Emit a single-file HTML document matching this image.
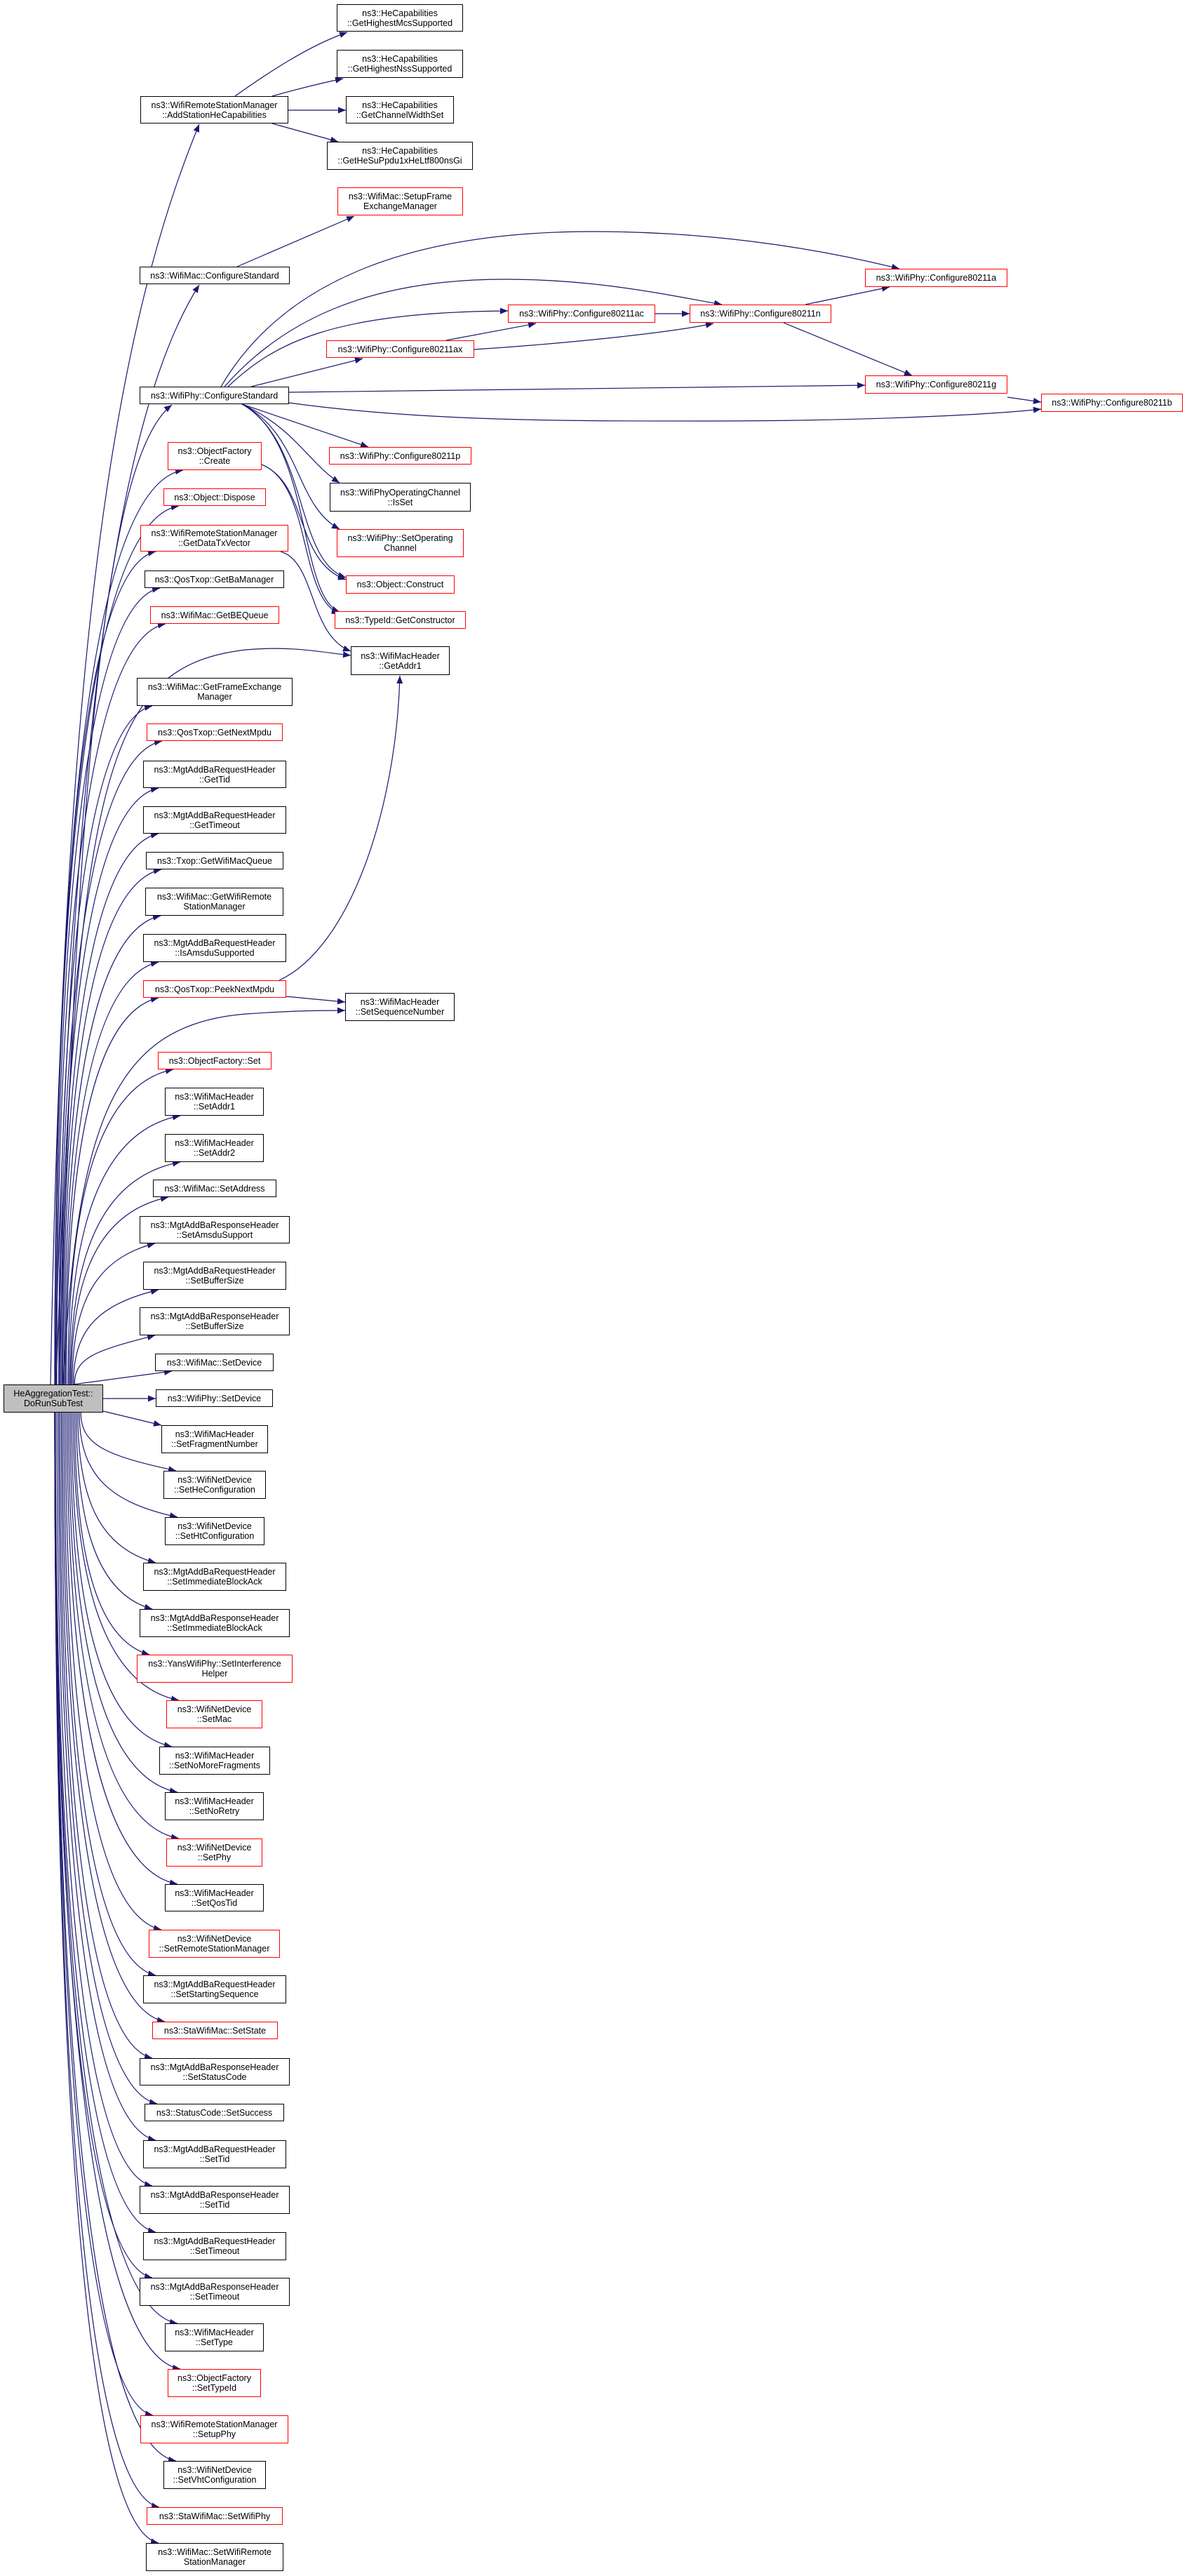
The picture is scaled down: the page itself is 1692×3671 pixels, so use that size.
<!DOCTYPE html>
<html><head><meta charset="utf-8">
<style>
html,body{margin:0;padding:0;background:#fff;}
body{width:1692px;height:3671px;position:relative;overflow:hidden;}
svg{position:absolute;left:0;top:0;}
.n{position:absolute;box-sizing:border-box;border:1px solid #000;background:#fff;display:flex;align-items:center;justify-content:center;text-align:center;font-family:"Liberation Sans",Arial,sans-serif;font-size:12.5px;line-height:14px;color:#000;white-space:nowrap;}
.r{border-color:#f00;}
.g{background:#bfbfbf;}
</style></head><body>
<svg id="s" width="1692" height="3671" xmlns="http://www.w3.org/2000/svg">
<defs><marker id="a" markerUnits="userSpaceOnUse" markerWidth="12" markerHeight="9" refX="11" refY="4.5" orient="auto"><path d="M0,0 L11,4.5 L0,9 z" fill="#191970"/></marker></defs>
<g id="e" fill="none" stroke="#191970" stroke-width="1.2"></g>
</svg>

<div class="n" style="left:480px;top:6px;width:180px;height:39px">ns3::HeCapabilities<br>::GetHighestMcsSupported</div>
<div class="n" style="left:480px;top:71px;width:180px;height:40px">ns3::HeCapabilities<br>::GetHighestNssSupported</div>
<div class="n" style="left:493px;top:137px;width:154px;height:39px">ns3::HeCapabilities<br>::GetChannelWidthSet</div>
<div class="n" style="left:466px;top:202px;width:208px;height:40px">ns3::HeCapabilities<br>::GetHeSuPpdu1xHeLtf800nsGi</div>
<div class="n r" style="left:481px;top:267px;width:179px;height:40px">ns3::WifiMac::SetupFrame<br>ExchangeManager</div>
<div class="n r" style="left:1233px;top:383px;width:203px;height:26px">ns3::WifiPhy::Configure80211a</div>
<div class="n r" style="left:724px;top:434px;width:210px;height:26px">ns3::WifiPhy::Configure80211ac</div>
<div class="n r" style="left:983px;top:434px;width:202px;height:26px">ns3::WifiPhy::Configure80211n</div>
<div class="n r" style="left:465px;top:485px;width:211px;height:25px">ns3::WifiPhy::Configure80211ax</div>
<div class="n r" style="left:1233px;top:535px;width:203px;height:26px">ns3::WifiPhy::Configure80211g</div>
<div class="n r" style="left:1484px;top:561px;width:202px;height:26px">ns3::WifiPhy::Configure80211b</div>
<div class="n r" style="left:469px;top:637px;width:203px;height:25px">ns3::WifiPhy::Configure80211p</div>
<div class="n" style="left:470px;top:688px;width:201px;height:41px">ns3::WifiPhyOperatingChannel<br>::IsSet</div>
<div class="n r" style="left:480px;top:754px;width:181px;height:40px">ns3::WifiPhy::SetOperating<br>Channel</div>
<div class="n r" style="left:493px;top:820px;width:155px;height:26px">ns3::Object::Construct</div>
<div class="n r" style="left:477px;top:871px;width:187px;height:25px">ns3::TypeId::GetConstructor</div>
<div class="n" style="left:500px;top:921px;width:141px;height:41px">ns3::WifiMacHeader<br>::GetAddr1</div>
<div class="n" style="left:492px;top:1415px;width:156px;height:40px">ns3::WifiMacHeader<br>::SetSequenceNumber</div>

<div class="n g" style="left:5px;top:1973px;width:142px;height:40px">HeAggregationTest::<br>DoRunSubTest</div>

<div class="n" style="left:200px;top:137px;width:211px;height:39px">ns3::WifiRemoteStationManager<br>::AddStationHeCapabilities</div>
<div class="n" style="left:199px;top:380px;width:214px;height:25px">ns3::WifiMac::ConfigureStandard</div>
<div class="n" style="left:199px;top:551px;width:213px;height:25px">ns3::WifiPhy::ConfigureStandard</div>
<div class="n r" style="left:239px;top:630px;width:134px;height:40px">ns3::ObjectFactory<br>::Create</div>
<div class="n r" style="left:233px;top:696px;width:146px;height:25px">ns3::Object::Dispose</div>
<div class="n r" style="left:200px;top:748px;width:211px;height:38px">ns3::WifiRemoteStationManager<br>::GetDataTxVector</div>
<div class="n" style="left:206px;top:813px;width:199px;height:25px">ns3::QosTxop::GetBaManager</div>
<div class="n r" style="left:214px;top:864px;width:184px;height:25px">ns3::WifiMac::GetBEQueue</div>
<div class="n" style="left:195px;top:966px;width:222px;height:40px">ns3::WifiMac::GetFrameExchange<br>Manager</div>
<div class="n r" style="left:209px;top:1031px;width:194px;height:25px">ns3::QosTxop::GetNextMpdu</div>
<div class="n" style="left:204px;top:1084px;width:204px;height:39px">ns3::MgtAddBaRequestHeader<br>::GetTid</div>
<div class="n" style="left:204px;top:1149px;width:204px;height:39px">ns3::MgtAddBaRequestHeader<br>::GetTimeout</div>
<div class="n" style="left:208px;top:1214px;width:196px;height:25px">ns3::Txop::GetWifiMacQueue</div>
<div class="n" style="left:207px;top:1265px;width:197px;height:40px">ns3::WifiMac::GetWifiRemote<br>StationManager</div>
<div class="n" style="left:204px;top:1331px;width:204px;height:40px">ns3::MgtAddBaRequestHeader<br>::IsAmsduSupported</div>
<div class="n r" style="left:204px;top:1397px;width:204px;height:25px">ns3::QosTxop::PeekNextMpdu</div>
<div class="n r" style="left:225px;top:1499px;width:162px;height:25px">ns3::ObjectFactory::Set</div>
<div class="n" style="left:235px;top:1550px;width:141px;height:40px">ns3::WifiMacHeader<br>::SetAddr1</div>
<div class="n" style="left:235px;top:1616px;width:141px;height:40px">ns3::WifiMacHeader<br>::SetAddr2</div>
<div class="n" style="left:218px;top:1681px;width:176px;height:25px">ns3::WifiMac::SetAddress</div>
<div class="n" style="left:199px;top:1733px;width:214px;height:39px">ns3::MgtAddBaResponseHeader<br>::SetAmsduSupport</div>
<div class="n" style="left:204px;top:1798px;width:204px;height:40px">ns3::MgtAddBaRequestHeader<br>::SetBufferSize</div>
<div class="n" style="left:199px;top:1863px;width:214px;height:40px">ns3::MgtAddBaResponseHeader<br>::SetBufferSize</div>
<div class="n" style="left:221px;top:1929px;width:169px;height:25px">ns3::WifiMac::SetDevice</div>
<div class="n" style="left:222px;top:1980px;width:167px;height:25px">ns3::WifiPhy::SetDevice</div>
<div class="n" style="left:230px;top:2031px;width:152px;height:40px">ns3::WifiMacHeader<br>::SetFragmentNumber</div>
<div class="n" style="left:233px;top:2096px;width:146px;height:40px">ns3::WifiNetDevice<br>::SetHeConfiguration</div>
<div class="n" style="left:235px;top:2162px;width:142px;height:40px">ns3::WifiNetDevice<br>::SetHtConfiguration</div>
<div class="n" style="left:204px;top:2227px;width:204px;height:40px">ns3::MgtAddBaRequestHeader<br>::SetImmediateBlockAck</div>
<div class="n" style="left:199px;top:2293px;width:214px;height:40px">ns3::MgtAddBaResponseHeader<br>::SetImmediateBlockAck</div>
<div class="n r" style="left:195px;top:2358px;width:222px;height:40px">ns3::YansWifiPhy::SetInterference<br>Helper</div>
<div class="n r" style="left:237px;top:2423px;width:137px;height:40px">ns3::WifiNetDevice<br>::SetMac</div>
<div class="n" style="left:227px;top:2489px;width:158px;height:40px">ns3::WifiMacHeader<br>::SetNoMoreFragments</div>
<div class="n" style="left:235px;top:2554px;width:141px;height:40px">ns3::WifiMacHeader<br>::SetNoRetry</div>
<div class="n r" style="left:237px;top:2620px;width:137px;height:40px">ns3::WifiNetDevice<br>::SetPhy</div>
<div class="n" style="left:235px;top:2685px;width:141px;height:39px">ns3::WifiMacHeader<br>::SetQosTid</div>
<div class="n r" style="left:212px;top:2750px;width:187px;height:40px">ns3::WifiNetDevice<br>::SetRemoteStationManager</div>
<div class="n" style="left:204px;top:2815px;width:204px;height:40px">ns3::MgtAddBaRequestHeader<br>::SetStartingSequence</div>
<div class="n r" style="left:217px;top:2881px;width:179px;height:25px">ns3::StaWifiMac::SetState</div>
<div class="n" style="left:199px;top:2933px;width:214px;height:39px">ns3::MgtAddBaResponseHeader<br>::SetStatusCode</div>
<div class="n" style="left:206px;top:2998px;width:199px;height:25px">ns3::StatusCode::SetSuccess</div>
<div class="n" style="left:204px;top:3050px;width:204px;height:40px">ns3::MgtAddBaRequestHeader<br>::SetTid</div>
<div class="n" style="left:199px;top:3115px;width:214px;height:40px">ns3::MgtAddBaResponseHeader<br>::SetTid</div>
<div class="n" style="left:204px;top:3181px;width:204px;height:40px">ns3::MgtAddBaRequestHeader<br>::SetTimeout</div>
<div class="n" style="left:199px;top:3246px;width:214px;height:40px">ns3::MgtAddBaResponseHeader<br>::SetTimeout</div>
<div class="n" style="left:235px;top:3311px;width:141px;height:40px">ns3::WifiMacHeader<br>::SetType</div>
<div class="n r" style="left:239px;top:3376px;width:133px;height:40px">ns3::ObjectFactory<br>::SetTypeId</div>
<div class="n r" style="left:200px;top:3442px;width:211px;height:40px">ns3::WifiRemoteStationManager<br>::SetupPhy</div>
<div class="n" style="left:233px;top:3507px;width:146px;height:40px">ns3::WifiNetDevice<br>::SetVhtConfiguration</div>
<div class="n r" style="left:209px;top:3573px;width:194px;height:25px">ns3::StaWifiMac::SetWifiPhy</div>
<div class="n" style="left:208px;top:3624px;width:196px;height:40px">ns3::WifiMac::SetWifiRemote<br>StationManager</div>

<script>
(function(){
var g=document.getElementById('e');
function P(d){var p=document.createElementNS('http://www.w3.org/2000/svg','path');p.setAttribute('d',d);p.setAttribute('marker-end','url(#a)');g.appendChild(p);}
var fixed=[
"M335,137 C380,105 440,65 495,46",
"M388,137 C420,128 455,119 489,112",
"M411,157 L493,157",
"M388,176 L482,202",
"M338,380 L505,308",
"M315,551 C380,440 520,330 845,330 C1000,330 1150,350 1282,383",
"M320,551 C400,460 520,398 720,398 C850,398 950,420 1029,434",
"M325,551 C390,490 470,445 724,443",
"M358,551 L517,511",
"M636,485 L764,461",
"M676,498 C800,490 950,475 1017,461",
"M934,447 L983,447",
"M1148,434 L1268,409",
"M1117,460 L1300,535",
"M412,559 L1233,549",
"M1436,566 L1484,573",
"M412,574 C600,600 800,600 1000,600 C1250,600 1420,590 1484,583",
"M345,576 L525,637",
"M345,576 C420,610 440,660 484,688",
"M345,576 C430,620 420,720 484,754",
"M345,576 C440,630 420,800 493,823",
"M345,576 C445,630 425,850 484,872",
"M373,662 C440,690 420,800 493,826",
"M373,662 C445,690 425,850 484,875",
"M400,786 C450,800 440,905 500,928",
"M398,1397 C500,1350 565,1150 570,963",
"M408,1420 L492,1428",
"M72,1973 C90,1000 150,500 284,177",
"M78,1973 C100,1100 160,600 284,406",
"M84,1973 C110,1100 150,650 245,577",
"M80,1973 C110,1100 150,950 350,926 C420,920 460,930 500,934",
"M90,1973 C110,1600 160,1460 350,1445 C420,1440 460,1440 492,1440",
"M104,1973 L245,1954",
"M147,1993 L222,1993",
"M147,2011 L230,2031"
];
fixed.forEach(P);
var divs=document.querySelectorAll('.n');
var skip={'ns3::WifiRemoteStationManager::AddStationHeCapabilities':1,'ns3::WifiMac::ConfigureStandard':1,'ns3::WifiPhy::ConfigureStandard':1,'ns3::WifiMac::SetDevice':1,'ns3::WifiPhy::SetDevice':1,'ns3::WifiMacHeader::SetFragmentNumber':1};
for(var i=0;i<divs.length;i++){
 var d=divs[i];var x=parseFloat(d.style.left),y=parseFloat(d.style.top),w=parseFloat(d.style.width),h=parseFloat(d.style.height);
 if(x>430||x<100)continue;
 var t=d.textContent.replace(/\s/g,'');
 if(skip[t])continue;
 var sy,ex,ey,dy,sx;
 if(y<1973){
  sy=1973;ey=y+h;ex=x+22;dy=sy-ey;
  sx=78+Math.max(0,30*(1-dy/1200));
  P("M"+sx+","+sy+" C"+sx+","+(ey+dy*0.45)+" "+(sx+(ex-sx)*0.25)+","+(ey+22)+" "+ex+","+ey);
 } else {
  sy=2013;ey=y;ex=x+18;dy=ey-sy;
  sx=78+Math.max(0,40*(1-dy/1200));
  P("M"+sx+","+sy+" C"+sx+","+(ey-dy*0.45)+" "+(sx+(ex-sx)*0.25)+","+(ey-22)+" "+ex+","+ey);
 }
}
})();
</script>
</body></html>
